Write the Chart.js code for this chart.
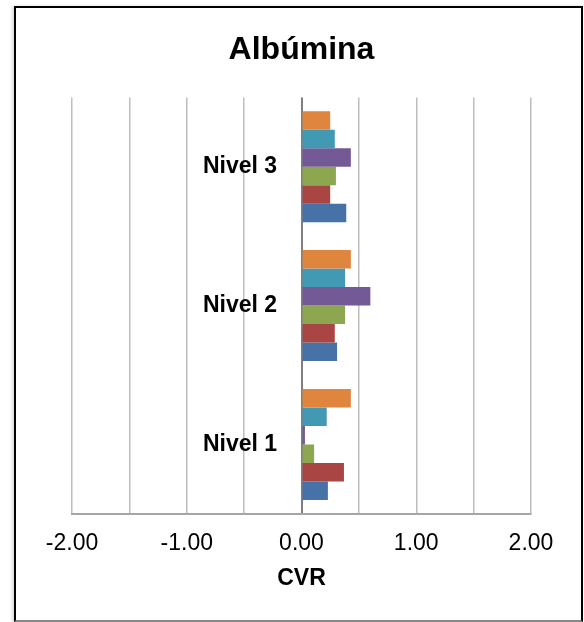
<!DOCTYPE html>
<html>
<head>
<meta charset="utf-8">
<script src="https://cdn.jsdelivr.net/npm/chart.js@4"></script>
<style>
  html, body { margin: 0; padding: 0; background: #fff; }
  #wrap { position: relative; width: 584px; height: 622px; }
  #frame {
    position: absolute; left: 14px; top: 6px; width: 569px; height: 616px;
    box-sizing: border-box; border: 2px solid #000; border-bottom-color: #888;
    box-shadow: -2px 0 3px rgba(0,0,0,0.15); pointer-events: none;
  }
  canvas { position: absolute; left: 0; top: 0; }
</style>
</head>
<body>
<div id="wrap">
  <canvas id="grafico" width="584" height="622"></canvas>
  <div id="frame"></div>
</div>
<script>
// niveles de control
const niveles = ['Nivel 1', 'Nivel 2', 'Nivel 3'];

// CVR por serie (Nivel 1, Nivel 2, Nivel 3)
const serie1 = [0.23, 0.31, 0.39];
const serie2 = [0.37, 0.29, 0.25];
const serie3 = [0.11, 0.38, 0.30];
const serie4 = [0.03, 0.60, 0.43];
const serie5 = [0.22, 0.38, 0.29];
const serie6 = [0.43, 0.43, 0.25];

const ticksX = [-2, -1, 0, 1, 2];

const colores = ['#4672A8', '#A94643', '#8CA750', '#735995', '#4199B3', '#E0853E'];
const series = [serie1, serie2, serie3, serie4, serie5, serie6];

new Chart(document.getElementById('grafico'), {
    type: 'bar',
    data: {
        labels: niveles,
        datasets: series.map((s, i) => ({
            label: 'Serie ' + (i + 1),
            data: s,
            backgroundColor: colores[i],
            borderWidth: 0,
            categoryPercentage: 0.8,
            barPercentage: 1.0,
            // la serie 1 queda abajo dentro de cada grupo
            order: series.length - i
        }))
    },
    options: {
        indexAxis: 'y',
        responsive: false,
        animation: false,
        layout: { padding: { left: 72, right: 53, top: 10, bottom: 26 } },
        plugins: {
            legend: { display: false },
            tooltip: { enabled: false },
            title: {
                display: true,
                text: 'Albúmina',
                color: '#000',
                font: { family: 'Liberation Sans, Arial', size: 32, weight: 'bold' },
                padding: { top: 21, bottom: 28 }
            }
        },
        scales: {
            x: {
                min: -2,
                max: 2,
                afterBuildTicks: axis => {
                    axis.ticks = [-2, -1.5, -1, -0.5, 0, 0.5, 1, 1.5, 2].map(v => ({ value: v }));
                },
                ticks: {
                    color: '#000',
                    padding: 16,
                    autoSkip: false,
                    maxRotation: 0,
                    minRotation: 0,
                    font: { family: 'Liberation Sans, Arial', size: 23 },
                    callback: v => ticksX.includes(v) ? v.toFixed(2) : ''
                },
                grid: {
                    color: ctx => ctx.tick && ctx.tick.value === 0 ? '#7F7F7F' : '#BEBEBE',
                    lineWidth: ctx => ctx.tick && ctx.tick.value === 0 ? 2 : 1.5,
                    drawTicks: false
                },
                border: { color: '#A6A6A6', width: 2 },
                title: {
                    display: true,
                    text: 'CVR',
                    color: '#000',
                    font: { family: 'Liberation Sans, Arial', size: 23, weight: 'bold' },
                    padding: { top: -9, bottom: 4 }
                }
            },
            y: {
                position: 'left',
                reverse: true,
                // etiquetas dentro del área, junto al eje del cero
                afterFit: axis => {
                    axis.width = 0;
                    axis.paddingTop = 0;
                    axis.paddingBottom = 0;
                },
                ticks: {
                    mirror: true,
                    crossAlign: 'near',
                    padding: 131,
                    color: '#000',
                    font: { family: 'Liberation Sans, Arial', size: 23, weight: 'bold' }
                },
                grid: { display: false, drawTicks: false },
                border: { display: false }
            }
        }
    }
});
</script>
</body>
</html>
